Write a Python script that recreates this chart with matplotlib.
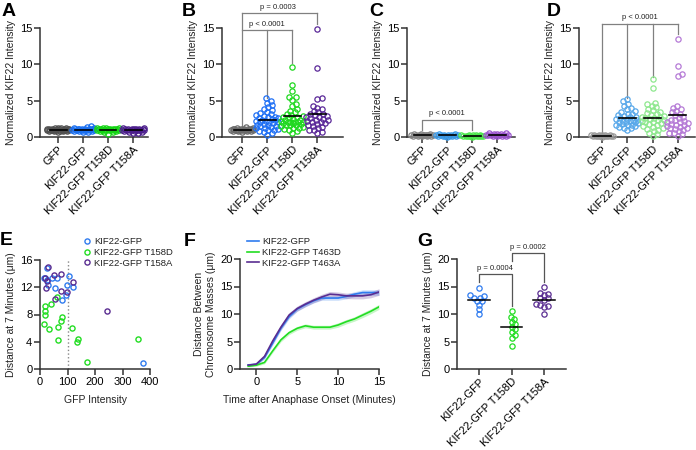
import numpy as np
import matplotlib.pyplot as plt

plt.rcParams['font.family'] = ['Liberation Sans', 'DejaVu Sans']
plt.rcParams['text.color'] = '#222222'
plt.rcParams['axes.labelcolor'] = '#222222'

groups = ['GFP', 'KIF22-GFP', 'KIF22-GFP T158D', 'KIF22-GFP T158A']

# ---- panel A ----
a_gfp = [0.72, 0.78, 0.82, 0.85, 0.88, 0.9, 0.92, 0.94, 0.95, 0.97, 0.98, 1.0, 1.0, 1.02, 1.03,
         1.05, 1.06, 1.08, 1.1, 1.12, 1.14, 1.17, 1.2, 1.24, 1.3, 0.8, 0.93, 1.01, 1.07, 1.15]
a_kif = [0.66, 0.72, 0.8, 0.85, 0.9, 0.93, 0.96, 0.98, 1.0, 1.02, 1.04, 1.06, 1.08, 1.1, 1.13,
         1.16, 1.2, 1.25, 1.32, 1.45, 0.88, 0.95, 1.0, 1.05, 1.12]
a_t158d = [0.42, 0.62, 0.75, 0.82, 0.88, 0.92, 0.95, 0.98, 1.0, 1.02, 1.04, 1.06, 1.08, 1.1, 1.12,
           1.15, 1.18, 1.22, 1.26, 1.3, 0.9, 0.97, 1.01, 1.07]
a_t158a = [0.5, 0.55, 0.62, 0.75, 0.82, 0.88, 0.92, 0.95, 0.98, 1.0, 1.02, 1.04, 1.06, 1.08, 1.1,
           1.13, 1.16, 1.2, 1.25, 0.9, 0.97, 1.01, 1.07]

# ---- panel B ----
b_gfp = [0.7, 0.76, 0.8, 0.84, 0.88, 0.9, 0.93, 0.95, 0.97, 0.99, 1.0, 1.02, 1.04, 1.06, 1.08,
         1.1, 1.13, 1.16, 1.2, 1.25, 1.32, 0.92, 1.0, 1.05]
b_kif = [0.3, 0.5, 0.7, 0.8, 1.0, 1.1, 1.2, 1.3, 1.4, 1.5, 1.6, 1.7, 1.8, 1.9, 2.0, 2.0, 2.1, 2.2,
         2.3, 2.4, 2.5, 2.6, 2.7, 2.8, 2.9, 3.0, 3.1, 3.3, 3.5, 3.7, 3.9, 4.1, 4.4, 4.7, 5.0, 5.3,
         0.9, 1.5, 2.2, 2.6]
b_t158d = [0.6, 0.8, 1.0, 1.2, 1.3, 1.5, 1.6, 1.7, 1.8, 1.9, 2.0, 2.0, 2.1, 2.2, 2.3, 2.4, 2.5,
           2.6, 2.7, 2.8, 2.9, 3.0, 3.2, 3.4, 3.6, 3.9, 4.2, 4.6, 5.1, 5.5, 5.5, 6.3, 7.2, 9.6,
           1.4, 1.9, 2.1, 1.1, 1.6, 2.0]
b_t158a = [0.5, 0.7, 0.9, 1.0, 1.2, 1.4, 1.5, 1.6, 1.8, 1.9, 2.0, 2.1, 2.2, 2.3, 2.4, 2.5, 2.6,
           2.7, 2.8, 2.9, 3.0, 3.1, 3.2, 3.4, 3.6, 3.8, 4.0, 4.2, 5.2, 5.4, 9.5, 14.9]

# ---- panel C ----
c_gfp = [0.12, 0.15, 0.18, 0.2, 0.22, 0.24, 0.25, 0.27, 0.28, 0.3, 0.32, 0.34, 0.36, 0.4, 0.44,
         0.2, 0.26, 0.3]
c_kif = [0.06, 0.1, 0.13, 0.16, 0.18, 0.2, 0.22, 0.24, 0.26, 0.28, 0.3, 0.33, 0.36, 0.4, 0.2, 0.25]
c_t158d = [0.05, 0.08, 0.1, 0.12, 0.14, 0.16, 0.18, 0.2, 0.22, 0.24, 0.26, 0.28, 0.32, 0.15, 0.2]
c_t158a = [0.1, 0.14, 0.18, 0.2, 0.22, 0.25, 0.28, 0.3, 0.33, 0.36, 0.4, 0.45, 0.52, 0.6, 0.24, 0.3]

# ---- panel D ----
d_gfp = [0.05, 0.08, 0.1, 0.12, 0.14, 0.16, 0.18, 0.2, 0.22, 0.24, 0.26, 0.28, 0.3, 0.34, 0.15, 0.2]
d_kif = [0.9, 1.2, 1.4, 1.5, 1.6, 1.7, 1.8, 1.9, 2.0, 2.1, 2.2, 2.2, 2.3, 2.4, 2.5, 2.6, 2.7, 2.8,
         2.9, 3.0, 3.1, 3.2, 3.4, 3.6, 3.8, 4.0, 4.3, 4.6, 4.9, 5.2, 1.3, 2.0, 1.7, 2.5]
d_t158d = [0.2, 0.4, 0.6, 0.8, 1.0, 1.2, 1.4, 1.5, 1.7, 1.8, 2.0, 2.1, 2.2, 2.3, 2.4, 2.5, 2.6,
           2.7, 2.8, 2.9, 3.0, 3.1, 3.3, 3.5, 3.7, 3.9, 4.1, 4.3, 4.5, 4.7, 6.8, 8.0, 1.1, 1.9, 2.6]
d_t158a = [0.2, 0.4, 0.6, 0.8, 1.0, 1.1, 1.2, 1.4, 1.5, 1.6, 1.7, 1.8, 1.9, 2.0, 2.1, 2.2, 2.3,
           2.4, 2.6, 2.8, 3.0, 3.2, 3.4, 3.6, 3.8, 4.0, 4.2, 8.4, 8.7, 9.8, 13.5, 0.5, 1.3]

# ---- panel E ----
e_kif_x = [16, 24, 18, 25, 30, 42, 63, 55, 79, 93, 97, 107, 121, 373]
e_kif_y = [13.4, 14.8, 13.4, 13.0, 12.3, 13.3, 13.3, 11.9, 10.1, 10.9, 12.4, 13.6, 12.0, 0.9]
e_d_x = [18, 17, 18, 39, 61, 81, 78, 15, 33, 67, 64, 116, 139, 133, 172, 358]
e_d_y = [9.2, 8.5, 8.0, 9.5, 10.6, 7.7, 7.1, 6.6, 5.9, 6.2, 4.2, 6.0, 4.4, 3.9, 1.1, 4.4]
e_a_x = [29, 18, 22, 51, 76, 55, 75, 98, 119, 244, 24]
e_a_y = [15.0, 13.4, 11.9, 13.8, 13.9, 10.3, 11.4, 11.3, 12.8, 8.5, 12.9]

# ---- panel F ----
f_t = [-1, 0, 1, 2, 3, 4, 5, 6, 7, 8, 9, 10, 11, 12, 13, 14, 15]
f_kif = [0.75, 0.85, 2.1, 4.7, 7.4, 9.5, 10.9, 11.7, 12.4, 12.9, 12.9, 12.9, 13.2, 13.6, 13.9, 13.9, 13.9]
f_kif_err = [0.2, 0.2, 0.3, 0.35, 0.4, 0.4, 0.4, 0.4, 0.4, 0.4, 0.4, 0.4, 0.45, 0.45, 0.5, 0.5, 0.5]
f_d = [0.5, 0.7, 1.2, 3.3, 5.3, 6.6, 7.4, 7.85, 7.6, 7.6, 7.6, 8.0, 8.6, 9.1, 9.8, 10.5, 11.3]
f_d_err = [0.15, 0.2, 0.25, 0.3, 0.35, 0.35, 0.35, 0.35, 0.35, 0.35, 0.35, 0.4, 0.4, 0.4, 0.45, 0.45, 0.45]
f_a = [0.7, 0.9, 2.3, 5.1, 7.6, 9.8, 11.0, 11.8, 12.5, 13.1, 13.6, 13.5, 13.3, 13.3, 13.3, 13.5, 14.0]
f_a_err = [0.2, 0.2, 0.3, 0.4, 0.45, 0.45, 0.45, 0.45, 0.45, 0.5, 0.5, 0.5, 0.5, 0.55, 0.55, 0.55, 0.6]

# ---- panel G ----
g_groups = ['KIF22-GFP', 'KIF22-GFP T158D', 'KIF22-GFP T158A']
g_kif = [14.8, 13.4, 13.3, 13.0, 12.9, 12.4, 12.3, 11.7, 10.9, 10.0]
g_t158d = [10.5, 9.5, 9.1, 8.5, 8.1, 7.7, 7.2, 6.7, 6.1, 5.7, 4.1]
g_t158a = [15.0, 13.9, 13.7, 13.4, 13.0, 12.9, 12.6, 11.8, 11.7, 11.4, 11.2, 10.0]

W, H = 696, 450
fig = plt.figure(figsize=(W / 100, H / 100), dpi=100)
AX_C = '#333333'
BR_C = '#808080'
TICK_FS = 8


def px_axes(left, right, top, bottom):
    return fig.add_axes([left / W, 1 - bottom / H, (right - left) / W, (bottom - top) / H])


def style(ax):
    for s in ['top', 'right']:
        ax.spines[s].set_visible(False)
    for s in ['left', 'bottom']:
        ax.spines[s].set_linewidth(1.1)
        ax.spines[s].set_color(AX_C)
    ax.tick_params(direction='out', length=4, width=1.1, labelsize=TICK_FS, pad=1.5, color=AX_C)


def swarm_x(vals, ppx, ppy, diam=4.4, maxoff=11):
    # beeswarm offsets, worked out in pixels
    vals = np.asarray(vals, float)
    xs = np.zeros(len(vals))
    placed = []
    cands = [0.0]
    for k in np.arange(0.5, maxoff + 0.01, 0.5):
        cands += [k, -k]
    for i in np.argsort(vals):
        yp = vals[i] * ppy
        best, bestd = 0.0, -1
        for c in cands:
            d = min([np.hypot(c - qx, yp - qy) for qx, qy in placed], default=99)
            if d >= diam:
                best = c
                break
            if d > bestd:
                best, bestd = c, d
        placed.append((best, yp))
        xs[i] = best / ppx
    return xs


def dot_panel(ax, data, colors, xl, ppx=25):
    for i, (vals, col) in enumerate(zip(data, colors)):
        xs = i + swarm_x(vals, ppx, 109 / 15)
        ax.plot(xs, vals, 'o', ms=3.8, mfc='none', mec=col, mew=0.9, clip_on=False, zorder=3)
        m = np.mean(vals)
        ax.plot([i - 0.34, i + 0.34], [m, m], color='black', lw=1.2, zorder=5, clip_on=False)
    ax.set_xlim(*xl)
    ax.set_ylim(0, 15)
    ax.set_yticks([0, 5, 10, 15])
    ax.set_xticks(range(len(data)))
    ax.set_xticklabels(groups, rotation=45, ha='right', rotation_mode='anchor')
    ax.set_ylabel('Normalized KIF22 Intensity', fontsize=7.5, labelpad=3)
    style(ax)


def seg(ax, xs, ys, color=BR_C):
    ax.plot(xs, ys, color=color, lw=0.9, clip_on=False, zorder=2)


# A
axA = px_axes(40, 148, 28, 137)
dot_panel(axA, [a_gfp, a_kif, a_t158d, a_t158a],
          ['#505050', '#1a6ff0', '#14d414', '#4b1e8c'], (-0.72, 3.6))

# B
axB = px_axes(222, 343, 28, 137)
dot_panel(axB, [b_gfp, b_kif, b_t158d, b_t158a],
          ['#6a6a6a', '#1e6ff5', '#1ed81e', '#5a2898'], (-0.8, 4.04))
seg(axB, [0, 0], [1.45, 17.0])
seg(axB, [0, 2], [14.7, 14.7])
seg(axB, [0, 3], [17.0, 17.0])
seg(axB, [1, 1], [5.4, 14.7])
seg(axB, [2, 2], [10.2, 14.7])
seg(axB, [3, 3], [15.6, 17.0])
axB.text(1, 15.0, 'p < 0.0001', ha='center', va='bottom', fontsize=5.5)
axB.text(1.45, 17.3, 'p = 0.0003', ha='center', va='bottom', fontsize=5.5)

# C
axC = px_axes(407, 515, 28, 137)
dot_panel(axC, [c_gfp, c_kif, c_t158d, c_t158a],
          ['#858585', '#3a9ae8', '#4ce84c', '#9b55cf'], (-0.6, 3.7), ppx=25.3)
seg(axC, [0, 0, 2, 2], [0.9, 2.4, 2.4, 0.9])
axC.text(1, 2.7, 'p < 0.0001', ha='center', va='bottom', fontsize=5.5)

# D
axD = px_axes(579, 695, 28, 137)
dot_panel(axD, [d_gfp, d_kif, d_t158d, d_t158a],
          ['#9a9a9a', '#58a8ea', '#8ee88e', '#b57ad6'], (-0.91, 3.68), ppx=25.3)
seg(axD, [0, 3], [15.6, 15.6])
seg(axD, [0, 0], [0.5, 15.6])
seg(axD, [1, 1], [5.3, 15.6])
seg(axD, [2, 2], [8.3, 15.6])
seg(axD, [3, 3], [14.2, 15.6])
axD.text(1.5, 16.0, 'p < 0.0001', ha='center', va='bottom', fontsize=5.5)

# E
axE = px_axes(40, 150, 260, 369)
e_cols = ['#2f7bef', '#22dd22', '#5a2d91']
axE.axvline(100, ls=':', color='#888888', lw=1)
for xs, ys, col, lab in [(e_kif_x, e_kif_y, e_cols[0], 'KIF22-GFP'),
                         (e_d_x, e_d_y, e_cols[1], 'KIF22-GFP T158D'),
                         (e_a_x, e_a_y, e_cols[2], 'KIF22-GFP T158A')]:
    axE.plot(xs, ys, 'o', ms=3.7, mfc='none', mec=col, mew=1.0, clip_on=False, label=lab)
axE.set_xlim(0, 400)
axE.set_ylim(0, 16)
axE.set_xticks([0, 100, 200, 300, 400])
axE.set_yticks([0, 4, 8, 12, 16])
axE.set_xlabel('GFP Intensity', fontsize=7.5, labelpad=6)
axE.set_ylabel('Distance at 7 Minutes (\u03bcm)', fontsize=7.5, labelpad=3)
style(axE)
axE.legend(loc='upper left', bbox_to_anchor=(83 / W, 1 - 237 / H), bbox_transform=fig.transFigure,
           frameon=False, fontsize=6.8, handlelength=0.8, handletextpad=0.4, labelspacing=0.2,
           borderpad=0, borderaxespad=0)

# F
axF = px_axes(240, 379, 259, 369)
for ys, err, col, lab in [(f_kif, f_kif_err, '#2f7bef', 'KIF22-GFP'),
                          (f_d, f_d_err, '#22dd22', 'KIF22-GFP T463D'),
                          (f_a, f_a_err, '#5a2d91', 'KIF22-GFP T463A')]:
    ys = np.array(ys)
    err = np.array(err)
    axF.fill_between(f_t, ys - err, ys + err, color=col, alpha=0.25, lw=0)
    axF.plot(f_t, ys, color=col, lw=1.2, label=lab)
axF.set_xlim(-2, 15)
axF.set_ylim(0, 20)
axF.set_xticks([0, 5, 10, 15])
axF.set_yticks([0, 5, 10, 15, 20])
axF.set_xlabel('Time after Anaphase Onset (Minutes)', fontsize=7.5, labelpad=6)
axF.set_ylabel('Distance Between\nChromosome Masses (\u03bcm)', fontsize=7.5, labelpad=3)
style(axF)
axF.legend(loc='upper left', bbox_to_anchor=(247 / W, 1 - 237 / H), bbox_transform=fig.transFigure,
           frameon=False, fontsize=6.8, handlelength=1.3, handletextpad=0.3, labelspacing=0.2,
           borderpad=0, borderaxespad=0)

# G
axG = px_axes(457, 566, 259, 369)
g_cols = ['#2f7bef', '#22dd22', '#5a2d91']
for i, (vals, col) in enumerate(zip([g_kif, g_t158d, g_t158a], g_cols)):
    xs = i + swarm_x(vals, 32.5, 109 / 20, diam=4.2)
    axG.plot(xs, vals, 'o', ms=3.8, mfc='none', mec=col, mew=0.9, clip_on=False, zorder=3)
    m = np.mean(vals)
    axG.plot([i - 0.33, i + 0.33], [m, m], color='black', lw=1.1, zorder=5)
axG.set_xlim(-0.68, 2.68)
axG.set_ylim(0, 20)
axG.set_yticks([0, 5, 10, 15, 20])
axG.set_xticks(range(3))
axG.set_xticklabels(g_groups, rotation=45, ha='right', rotation_mode='anchor')
axG.set_ylabel('Distance at 7 Minutes (\u03bcm)', fontsize=7.5, labelpad=3)
style(axG)
seg(axG, [0, 0, 1, 1], [15.9, 17.3, 17.3, 11.4], color='#555555')
seg(axG, [1, 1, 2, 2], [19.6, 21.1, 21.1, 15.9], color='#555555')
axG.text(0.5, 17.6, 'p = 0.0004', ha='center', va='bottom', fontsize=5.5)
axG.text(1.5, 21.4, 'p = 0.0002', ha='center', va='bottom', fontsize=5.5)

# panel letters
for lab, x, y in [('A', 2, 3), ('B', 182, 3), ('C', 369, 3), ('D', 547, 3),
                  ('E', 0, 232), ('F', 184, 233), ('G', 417, 233)]:
    fig.text(x / W, 1 - y / H, lab, fontsize=14, fontweight='bold', va='top', ha='left', color='black')

fig.savefig('out.png', dpi=100)
